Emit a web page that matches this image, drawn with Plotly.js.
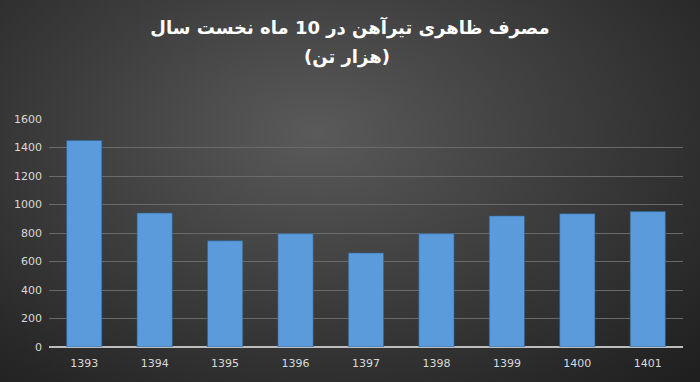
<!DOCTYPE html>
<html>
<head>
<meta charset="utf-8">
<script src="https://cdn.plot.ly/plotly-3.0.1.min.js"></script>
<style>
html,body{margin:0;padding:0;}
#chart{width:700px;height:382px;background:radial-gradient(ellipse at 45% 35%, #5a5a5a 0%, #3e3e3e 45%, #262626 85%, #1e1e1e 100%);}
</style>
</head>
<body>
<div id="chart"></div>
<script>
const years = ['1393','1394','1395','1396','1397','1398','1399','1400','1401'];
const consumption = [1450, 940, 745, 795, 660, 795, 920, 935, 950];
const yTicks = [0,200,400,600,800,1000,1200,1400,1600];
const titleLine1 = 'مصرف ظاهری تیرآهن در 10 ماه نخست سال';
const titleLine2 = '(هزار تن)';

const trace = {
  type: 'bar',
  x: years,
  y: consumption,
  marker: {
    color: '#5b9bdc',
    line: {color: '#2e5f8f', width: 0.6}
  },
  hoverinfo: 'x+y'
};

const titleFont = {family: 'DejaVu Sans, Liberation Sans, sans-serif', size: 18, color: '#ffffff'};

const layout = {
  width: 700,
  height: 382,
  paper_bgcolor: 'rgba(0,0,0,0)',
  plot_bgcolor: 'rgba(0,0,0,0)',
  margin: {l: 49, r: 17, t: 119, b: 35},
  bargap: 0.5,
  showlegend: false,
  title: {
    text: '<b>' + titleLine1 + '</b>',
    font: titleFont,
    x: 0.5, xanchor: 'center',
    xref: 'container',
    y: 1 - 28 / 382, yanchor: 'middle'
  },
  annotations: [{
    text: '<b>' + titleLine2 + '</b>',
    font: titleFont,
    xref: 'paper', yref: 'paper',
    x: 0.47, xanchor: 'center',
    y: (347 - 57) / 228, yanchor: 'middle',
    showarrow: false
  }],
  xaxis: {
    type: 'category',
    tickfont: {family: 'DejaVu Sans, sans-serif', size: 11, color: '#d9d9d9'},
    showgrid: false,
    showline: false,
    ticks: '',
    ticklabelstandoff: 8,
    zeroline: false
  },
  yaxis: {
    range: [0, 1600],
    tickvals: yTicks,
    ticktext: yTicks.map(String),
    tickfont: {family: 'DejaVu Sans, sans-serif', size: 11, color: '#d9d9d9'},
    showgrid: true,
    gridcolor: '#6a6a6a',
    gridwidth: 1,
    zeroline: true,
    zerolinecolor: '#bdbdbd',
    zerolinewidth: 1.5,
    ticks: '',
    ticklabelstandoff: 6,
    showline: false
  }
};

Plotly.newPlot('chart', [trace], layout, {displayModeBar: false, staticPlot: true});
</script>
</body>
</html>
